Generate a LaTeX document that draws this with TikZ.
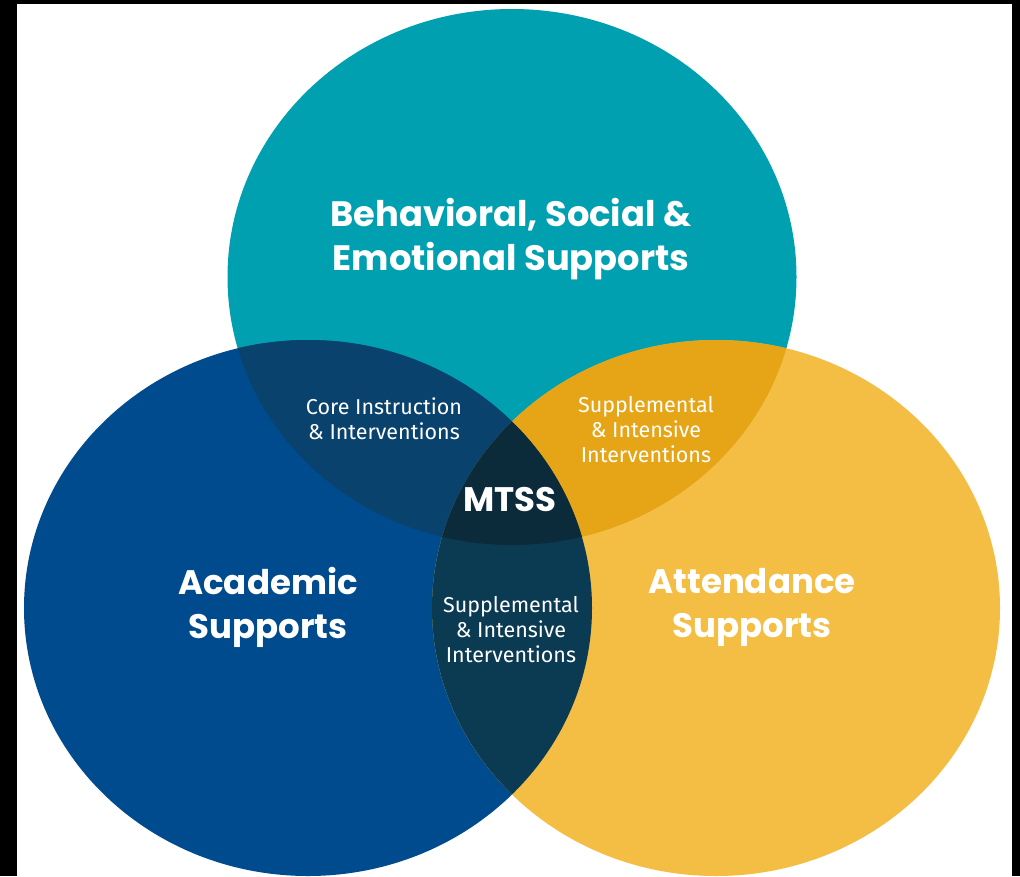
\documentclass[tikz,border=0pt]{standalone}
\usepackage{fontspec}
\newfontfamily\titlef{Poppins}
\newfontfamily\labelf{Fira Sans}
\definecolor{cteal}{RGB}{0,160,176}
\definecolor{cblue}{RGB}{0,75,141}
\definecolor{cyellow}{RGB}{244,190,68}
\definecolor{ctb}{RGB}{10,66,110}
\definecolor{cty}{RGB}{229,165,23}
\definecolor{cby}{RGB}{11,59,82}
\definecolor{call}{RGB}{11,43,59}
\def\pathT{(512,277) ellipse [x radius=284.5pt, y radius=268pt]}
\def\pathL{(308,608) ellipse [x radius=284pt, y radius=268pt]}
\def\pathR{(716,608) ellipse [x radius=284pt, y radius=268pt]}
\tikzset{
  title/.style={text=white, font=\titlef\bfseries\fontsize{35.3}{44}\selectfont, align=center, inner sep=0pt},
  side/.style={text=white, font=\titlef\bfseries\fontsize{34}{44}\selectfont, align=center, inner sep=0pt},
  mtss/.style={text=white, font=\titlef\bfseries\fontsize{34}{40}\selectfont, align=center, inner sep=0pt},
  small/.style={text=white, font=\labelf\fontsize{21.5}{25}\selectfont, align=center, inner sep=0pt},
}
\begin{document}
\begin{tikzpicture}[x=1pt,y=-1pt]
\useasboundingbox (0,0) rectangle (1020,876);
\fill[black] (0,0) rectangle (1020,876);
\fill[white] (17,4) rectangle (1012,876);
\begin{scope}
\clip (17,4) rectangle (1012,876);
\fill[cteal] \pathT;
\fill[cblue] \pathL;
\fill[cyellow] \pathR;
\begin{scope}\clip \pathT; \fill[ctb] \pathL; \end{scope}
\begin{scope}\clip \pathT; \fill[cty] \pathR; \end{scope}
\begin{scope}\clip \pathL; \fill[cby] \pathR; \end{scope}
\begin{scope}\clip \pathT; \clip \pathL; \fill[call] \pathR; \end{scope}
\end{scope}
\node[title] (beh) at (511,239) {Behavioral, Social \&\\Emotional Supports};
\node[side] (aca) at (268,607) {Academic\\Supports};
\node[side] (att) at (752,607) {Attendance\\Supports};
\node[mtss] (mt) at (510,500) {MTSS};
\node[small] (core) at (384,419) {Core Instruction\\\& Interventions};
\node[small] (sup1) at (646,430) {Supplemental\\\& Intensive\\Interventions};
\node[small] (sup2) at (511,630) {Supplemental\\\& Intensive\\Interventions};
\end{tikzpicture}
\end{document}
